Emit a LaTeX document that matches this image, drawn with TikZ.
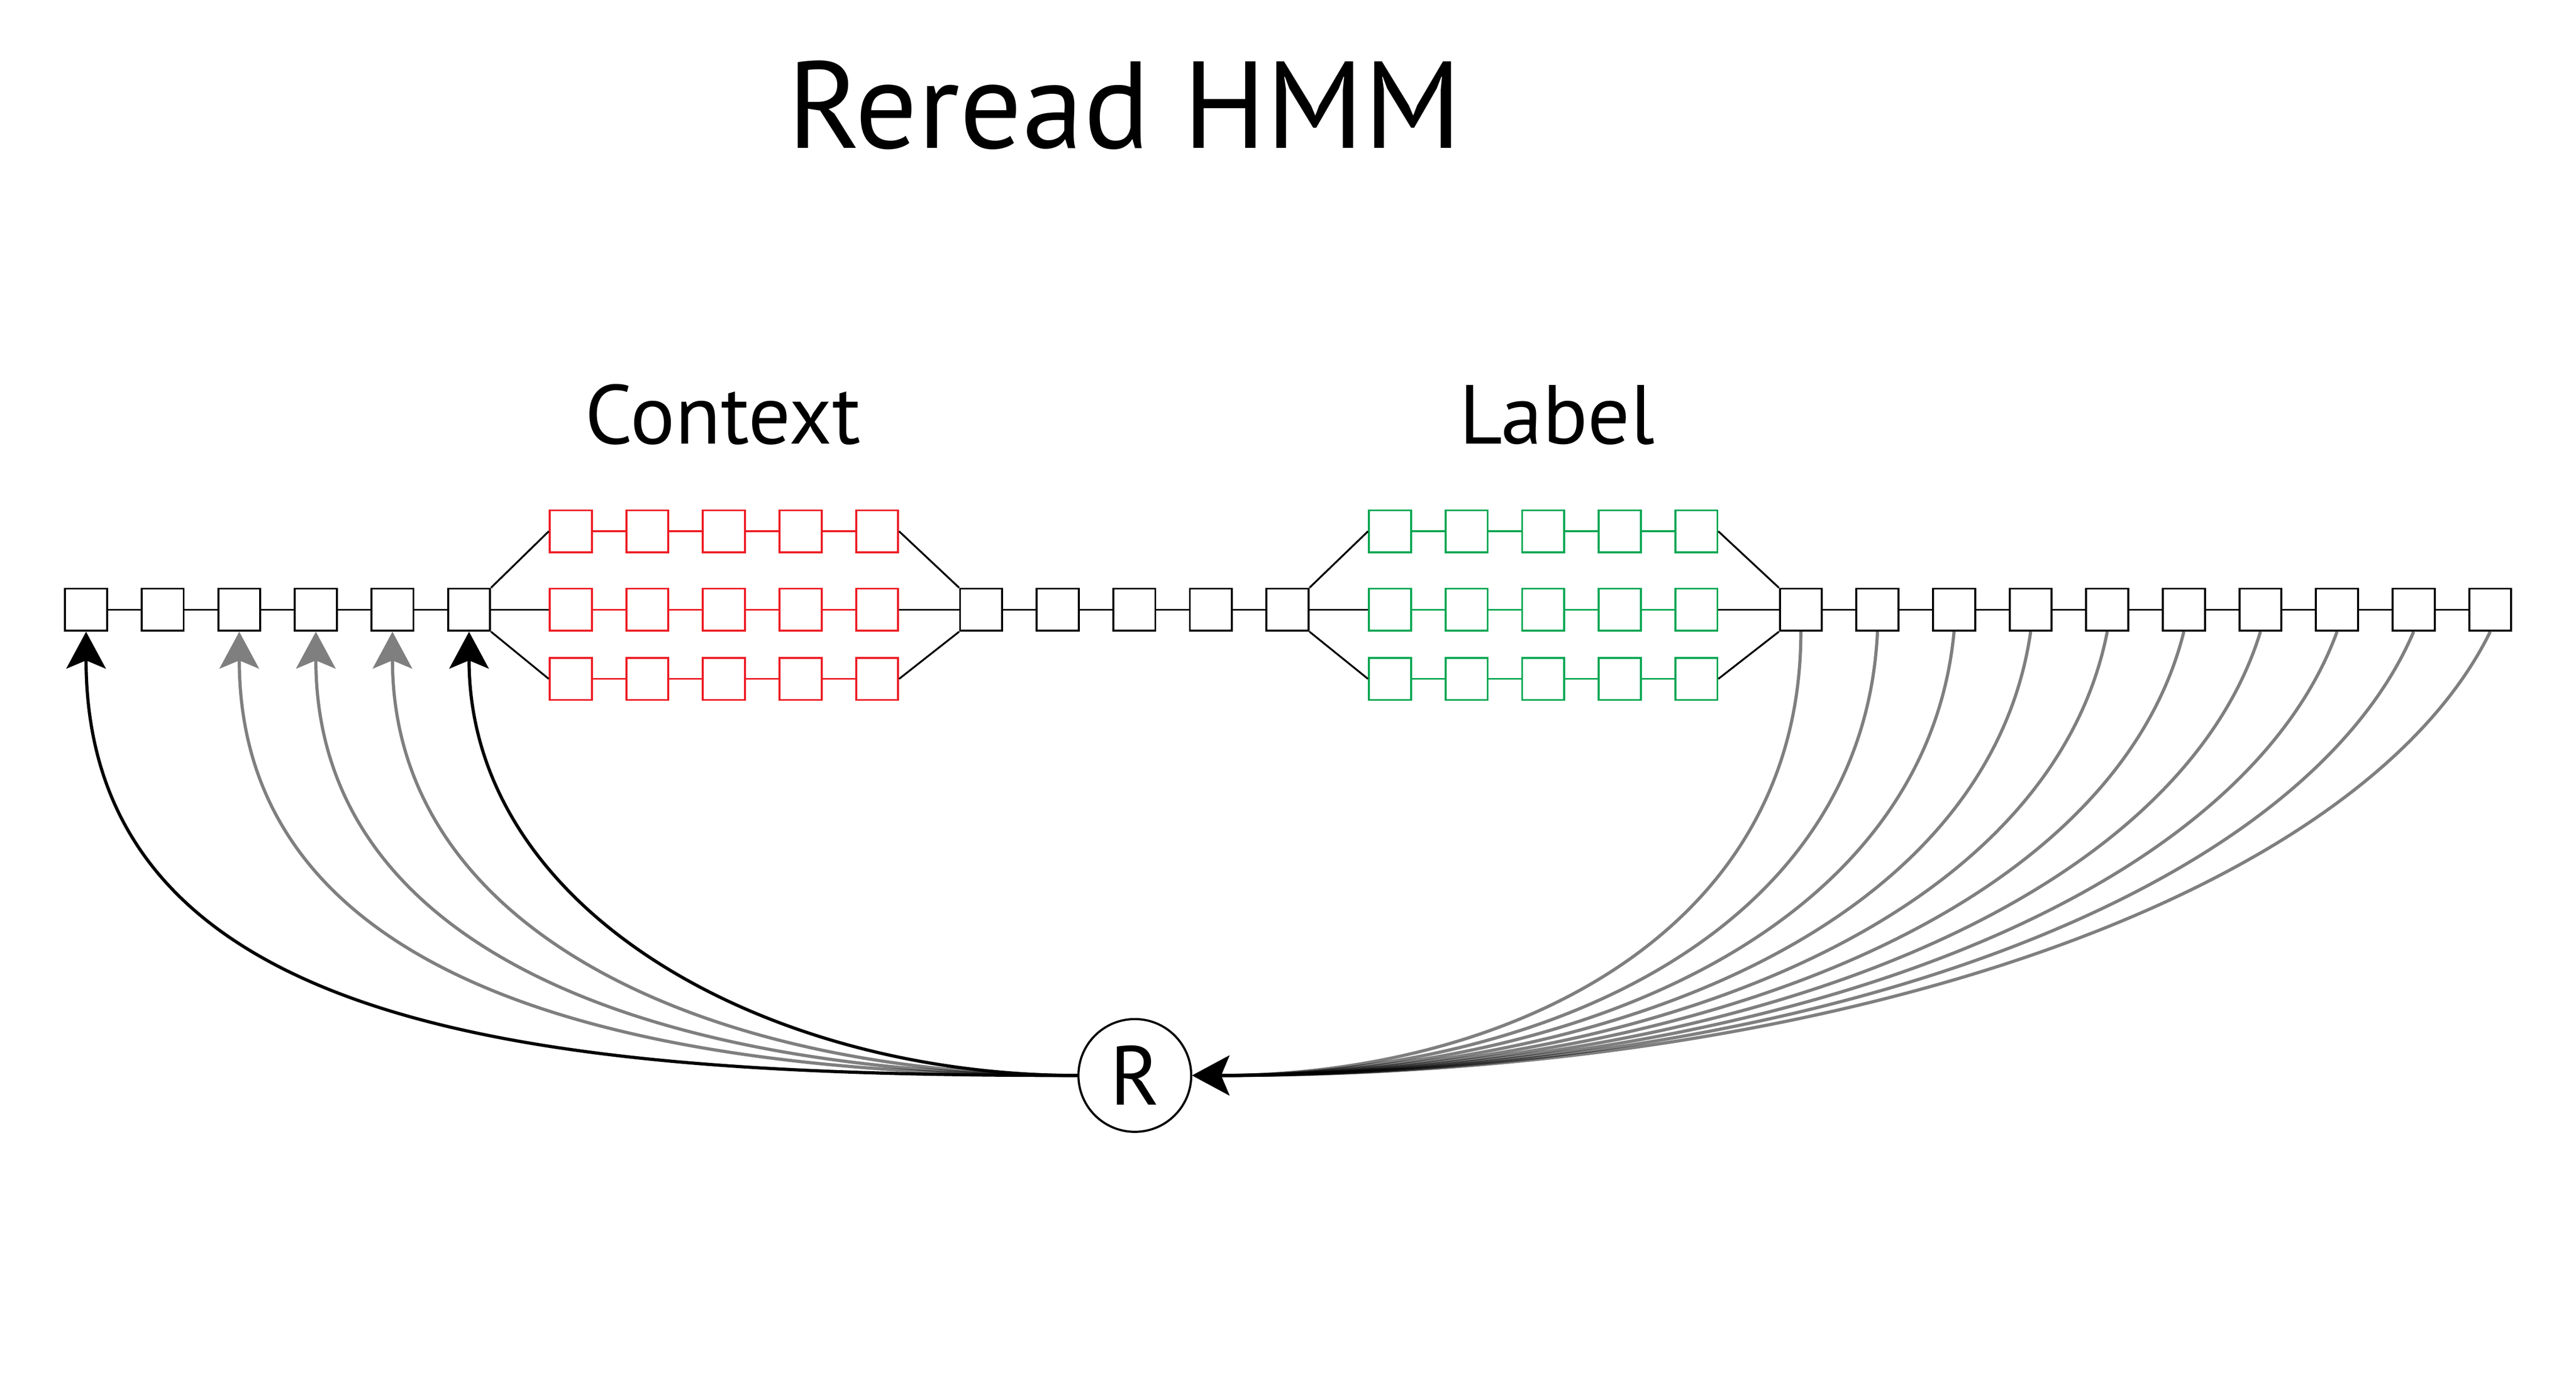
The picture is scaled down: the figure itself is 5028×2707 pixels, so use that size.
\documentclass[tikz,border=0pt]{standalone}
\usepackage{fontspec}
\setmainfont{PT Sans}
\usetikzlibrary{arrows.meta}
\definecolor{hmmred}{RGB}{237,28,36}
\definecolor{hmmgreen}{RGB}{0,166,81}
\begin{document}
\begin{tikzpicture}[x=0.01cm, y=-0.01cm,
  hbox/.style={draw=black, fill=white, line width=0.038cm, minimum size=0.82cm, inner sep=0pt},
  rbox/.style={hbox, draw=hmmred},
  gbox/.style={hbox, draw=hmmgreen},
  link/.style={line width=0.036cm, black},
  rlink/.style={line width=0.036cm, draw=hmmred},
  glink/.style={line width=0.036cm, draw=hmmgreen},
  tip/.style={-{Stealth[length=0.72cm, width=0.77cm, inset=0.16cm]}},
  curve/.style={line width=0.062cm, tip},
  bigtext/.style={font=\fontsize{68.6pt}{80pt}\selectfont, anchor=base},
  midtext/.style={font=\fontsize{46.5pt}{54pt}\selectfont, anchor=base}]
\fill[white] (0,0) rectangle (5028,2707);
\useasboundingbox (0,0) rectangle (5028,2707);

% texts
\node[bigtext] (title) at (2195,289) {Reread HMM};
\node[midtext] (ctx) at (1411,866) {Context};
\node[midtext] (lab) at (3039,866) {Label};

% main chain, left part
\foreach \i in {0,...,5} \node[hbox] (a\i) at ({168+149.5*\i},1190) {};
% context (red) rows
\foreach \rw/\y in {t/1037, m/1190, b/1325}
  \foreach \k in {0,...,4} \node[rbox] (r\rw\k) at ({1114+149.5*\k},\y) {};
% middle black chain
\foreach \k in {0,...,4} \node[hbox] (c\k) at ({1915+149.5*\k},1190) {};
% label (green) rows
\foreach \rw/\y in {t/1037, m/1190, b/1325}
  \foreach \k in {0,...,4} \node[gbox] (g\rw\k) at ({2713+149.5*\k},\y) {};
% right chain
\foreach \k in {0,...,9} \node[hbox] (d\k) at ({3515+149.5*\k},1190) {};

% R node
\node[circle, draw, fill=white, line width=0.042cm, minimum size=2.2cm, inner sep=0pt,
      font=\fontsize{46.5pt}{54pt}\selectfont] (R) at (2215,2099) {R};

% chain links
\foreach \i [evaluate=\i as \j using int(\i+1)] in {0,...,4} \draw[link] (a\i) -- (a\j);
\foreach \i [evaluate=\i as \j using int(\i+1)] in {0,...,3} \draw[link] (c\i) -- (c\j);
\foreach \i [evaluate=\i as \j using int(\i+1)] in {0,...,8} \draw[link] (d\i) -- (d\j);
\foreach \q/\s in {rt/rlink, rm/rlink, rb/rlink, gt/glink, gm/glink, gb/glink}
  \draw[\s] (\q0) -- (\q1) (\q1) -- (\q2) (\q2) -- (\q3) (\q3) -- (\q4);
% branching
\draw[link] (a5) -- (rm0);
\draw[link] (rm4) -- (c0);
\draw[link] (a5.north east) -- (rt0.west);
\draw[link] (a5.south east) -- (rb0.west);
\draw[link] (rt4.east) -- (c0.north west);
\draw[link] (rb4.east) -- (c0.south west);
\draw[link] (c4) -- (gm0);
\draw[link] (gm4) -- (d0);
\draw[link] (c4.north east) -- (gt0.west);
\draw[link] (c4.south east) -- (gb0.west);
\draw[link] (gt4.east) -- (d0.north west);
\draw[link] (gb4.east) -- (d0.south west);

% left curves (R -> earlier states)
\foreach \i/\ca/\cb in {2/850/700, 3/770/650, 4/695/600} {
  \begin{scope}[transparency group, opacity=0.5]
    \draw[curve] (R.west) .. controls +(-\ca,0) and +(0,\cb) .. (a\i.south);
  \end{scope}
}
\foreach \i/\ca/\cb in {0/1000/800, 5/600/550}
  \draw[curve] (R.west) .. controls +(-\ca,0) and +(0,\cb) .. (a\i.south);

% right curves (later states -> R)
\foreach \k in {0,...,9} {
  \pgfmathsetmacro\ca{600+700*\k/9}
  \pgfmathsetmacro\cb{600-100*\k/9}
  \pgfmathsetmacro\cc{245*\k/9}
  \begin{scope}[transparency group, opacity=0.5]
    \draw[curve] (d\k.south) .. controls +(-\cc,\cb) and +(\ca,0) .. (R.east);
  \end{scope}
}
\end{tikzpicture}
\end{document}
